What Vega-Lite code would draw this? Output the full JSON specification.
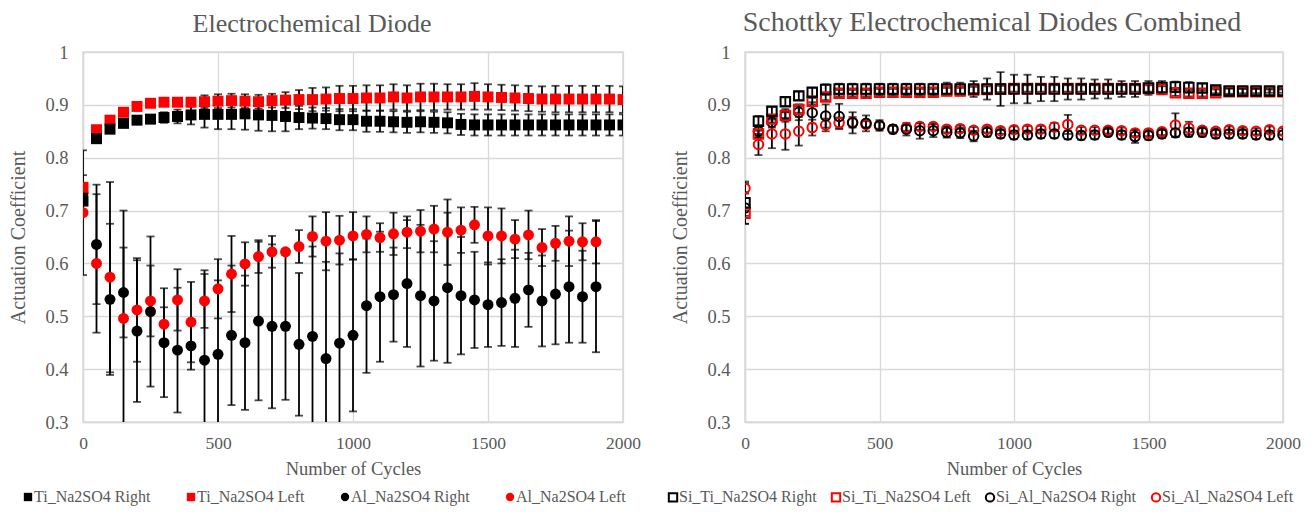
{
  "$schema": "https://vega.github.io/schema/vega-lite/v6.json",
  "background": "white",
  "padding": {"left": 8, "top": 8, "right": 0, "bottom": 0},
  "bounds": "flush",
  "spacing": 122,
  "config": {
    "font": "Liberation Serif",
    "view": {"stroke": "#D9D9D9", "strokeWidth": 1.5},
    "axis": {"gridColor": "#D9D9D9", "gridWidth": 1.3, "domainColor": "#D9D9D9", "domainWidth": 1.5, "ticks": false, "labelFont": "Liberation Serif", "labelColor": "#595959", "titleFont": "Liberation Serif", "titleColor": "#595959", "titleFontWeight": "normal"},
    "axisX": {"labelFontSize": 17.5, "titleFontSize": 18.5, "labelPadding": 12, "titlePadding": 8},
    "axisY": {"labelFontSize": 18.5, "titleFontSize": 20, "labelPadding": 15, "titlePadding": 16},
    "title": {"font": "Liberation Serif", "fontSize": 28, "fontWeight": "normal", "color": "#595959", "offset": 6, "anchor": "middle"},
    "legend": {"labelFont": "Liberation Serif", "labelFontSize": 16, "labelColor": "#595959", "labelLimit": 300}
  },
  "resolve": {"scale": {"color": "independent", "shape": "independent"}, "legend": {"color": "independent", "shape": "independent"}},
  "datasets": {
    "d": [
      {"p":"L","s":"Ti_Na2SO4 Right","x":0,"y":0.718,"e":0.005},
      {"p":"L","s":"Ti_Na2SO4 Right","x":50,"y":0.836,"e":0.003},
      {"p":"L","s":"Ti_Na2SO4 Right","x":100,"y":0.854,"e":0.003},
      {"p":"L","s":"Ti_Na2SO4 Right","x":150,"y":0.865,"e":0.004},
      {"p":"L","s":"Ti_Na2SO4 Right","x":200,"y":0.871,"e":0.005},
      {"p":"L","s":"Ti_Na2SO4 Right","x":250,"y":0.873,"e":0.006},
      {"p":"L","s":"Ti_Na2SO4 Right","x":300,"y":0.876,"e":0.010},
      {"p":"L","s":"Ti_Na2SO4 Right","x":350,"y":0.878,"e":0.013},
      {"p":"L","s":"Ti_Na2SO4 Right","x":400,"y":0.881,"e":0.018},
      {"p":"L","s":"Ti_Na2SO4 Right","x":450,"y":0.882,"e":0.025},
      {"p":"L","s":"Ti_Na2SO4 Right","x":500,"y":0.882,"e":0.028},
      {"p":"L","s":"Ti_Na2SO4 Right","x":550,"y":0.882,"e":0.028},
      {"p":"L","s":"Ti_Na2SO4 Right","x":600,"y":0.883,"e":0.030},
      {"p":"L","s":"Ti_Na2SO4 Right","x":650,"y":0.881,"e":0.030},
      {"p":"L","s":"Ti_Na2SO4 Right","x":700,"y":0.880,"e":0.030},
      {"p":"L","s":"Ti_Na2SO4 Right","x":750,"y":0.878,"e":0.028},
      {"p":"L","s":"Ti_Na2SO4 Right","x":800,"y":0.876,"e":0.022},
      {"p":"L","s":"Ti_Na2SO4 Right","x":850,"y":0.875,"e":0.020},
      {"p":"L","s":"Ti_Na2SO4 Right","x":900,"y":0.874,"e":0.020},
      {"p":"L","s":"Ti_Na2SO4 Right","x":950,"y":0.872,"e":0.020},
      {"p":"L","s":"Ti_Na2SO4 Right","x":1000,"y":0.872,"e":0.020},
      {"p":"L","s":"Ti_Na2SO4 Right","x":1050,"y":0.869,"e":0.020},
      {"p":"L","s":"Ti_Na2SO4 Right","x":1100,"y":0.869,"e":0.020},
      {"p":"L","s":"Ti_Na2SO4 Right","x":1150,"y":0.868,"e":0.020},
      {"p":"L","s":"Ti_Na2SO4 Right","x":1200,"y":0.867,"e":0.020},
      {"p":"L","s":"Ti_Na2SO4 Right","x":1250,"y":0.868,"e":0.020},
      {"p":"L","s":"Ti_Na2SO4 Right","x":1300,"y":0.867,"e":0.020},
      {"p":"L","s":"Ti_Na2SO4 Right","x":1350,"y":0.866,"e":0.020},
      {"p":"L","s":"Ti_Na2SO4 Right","x":1400,"y":0.863,"e":0.020},
      {"p":"L","s":"Ti_Na2SO4 Right","x":1450,"y":0.862,"e":0.020},
      {"p":"L","s":"Ti_Na2SO4 Right","x":1500,"y":0.862,"e":0.020},
      {"p":"L","s":"Ti_Na2SO4 Right","x":1550,"y":0.862,"e":0.020},
      {"p":"L","s":"Ti_Na2SO4 Right","x":1600,"y":0.862,"e":0.020},
      {"p":"L","s":"Ti_Na2SO4 Right","x":1650,"y":0.862,"e":0.020},
      {"p":"L","s":"Ti_Na2SO4 Right","x":1700,"y":0.862,"e":0.020},
      {"p":"L","s":"Ti_Na2SO4 Right","x":1750,"y":0.862,"e":0.020},
      {"p":"L","s":"Ti_Na2SO4 Right","x":1800,"y":0.862,"e":0.020},
      {"p":"L","s":"Ti_Na2SO4 Right","x":1850,"y":0.862,"e":0.020},
      {"p":"L","s":"Ti_Na2SO4 Right","x":1900,"y":0.862,"e":0.020},
      {"p":"L","s":"Ti_Na2SO4 Right","x":1950,"y":0.862,"e":0.020},
      {"p":"L","s":"Ti_Na2SO4 Right","x":2000,"y":0.862,"e":0.020},

      {"p":"L","s":"Ti_Na2SO4 Left","x":0,"y":0.744,"e":0.004},
      {"p":"L","s":"Ti_Na2SO4 Left","x":50,"y":0.853,"e":0.003},
      {"p":"L","s":"Ti_Na2SO4 Left","x":100,"y":0.871,"e":0.003},
      {"p":"L","s":"Ti_Na2SO4 Left","x":150,"y":0.886,"e":0.004},
      {"p":"L","s":"Ti_Na2SO4 Left","x":200,"y":0.897,"e":0.004},
      {"p":"L","s":"Ti_Na2SO4 Left","x":250,"y":0.903,"e":0.005},
      {"p":"L","s":"Ti_Na2SO4 Left","x":300,"y":0.905,"e":0.006},
      {"p":"L","s":"Ti_Na2SO4 Left","x":350,"y":0.905,"e":0.007},
      {"p":"L","s":"Ti_Na2SO4 Left","x":400,"y":0.905,"e":0.008},
      {"p":"L","s":"Ti_Na2SO4 Left","x":450,"y":0.906,"e":0.012},
      {"p":"L","s":"Ti_Na2SO4 Left","x":500,"y":0.907,"e":0.013},
      {"p":"L","s":"Ti_Na2SO4 Left","x":550,"y":0.908,"e":0.013},
      {"p":"L","s":"Ti_Na2SO4 Left","x":600,"y":0.907,"e":0.013},
      {"p":"L","s":"Ti_Na2SO4 Left","x":650,"y":0.906,"e":0.013},
      {"p":"L","s":"Ti_Na2SO4 Left","x":700,"y":0.908,"e":0.013},
      {"p":"L","s":"Ti_Na2SO4 Left","x":750,"y":0.909,"e":0.015},
      {"p":"L","s":"Ti_Na2SO4 Left","x":800,"y":0.910,"e":0.018},
      {"p":"L","s":"Ti_Na2SO4 Left","x":850,"y":0.910,"e":0.022},
      {"p":"L","s":"Ti_Na2SO4 Left","x":900,"y":0.911,"e":0.022},
      {"p":"L","s":"Ti_Na2SO4 Left","x":950,"y":0.912,"e":0.024},
      {"p":"L","s":"Ti_Na2SO4 Left","x":1000,"y":0.912,"e":0.024},
      {"p":"L","s":"Ti_Na2SO4 Left","x":1050,"y":0.913,"e":0.024},
      {"p":"L","s":"Ti_Na2SO4 Left","x":1100,"y":0.913,"e":0.024},
      {"p":"L","s":"Ti_Na2SO4 Left","x":1150,"y":0.915,"e":0.024},
      {"p":"L","s":"Ti_Na2SO4 Left","x":1200,"y":0.913,"e":0.024},
      {"p":"L","s":"Ti_Na2SO4 Left","x":1250,"y":0.915,"e":0.025},
      {"p":"L","s":"Ti_Na2SO4 Left","x":1300,"y":0.915,"e":0.025},
      {"p":"L","s":"Ti_Na2SO4 Left","x":1350,"y":0.915,"e":0.024},
      {"p":"L","s":"Ti_Na2SO4 Left","x":1400,"y":0.915,"e":0.024},
      {"p":"L","s":"Ti_Na2SO4 Left","x":1450,"y":0.916,"e":0.025},
      {"p":"L","s":"Ti_Na2SO4 Left","x":1500,"y":0.915,"e":0.024},
      {"p":"L","s":"Ti_Na2SO4 Left","x":1550,"y":0.914,"e":0.024},
      {"p":"L","s":"Ti_Na2SO4 Left","x":1600,"y":0.913,"e":0.024},
      {"p":"L","s":"Ti_Na2SO4 Left","x":1650,"y":0.912,"e":0.024},
      {"p":"L","s":"Ti_Na2SO4 Left","x":1700,"y":0.911,"e":0.024},
      {"p":"L","s":"Ti_Na2SO4 Left","x":1750,"y":0.911,"e":0.025},
      {"p":"L","s":"Ti_Na2SO4 Left","x":1800,"y":0.911,"e":0.025},
      {"p":"L","s":"Ti_Na2SO4 Left","x":1850,"y":0.911,"e":0.025},
      {"p":"L","s":"Ti_Na2SO4 Left","x":1900,"y":0.911,"e":0.025},
      {"p":"L","s":"Ti_Na2SO4 Left","x":1950,"y":0.911,"e":0.025},
      {"p":"L","s":"Ti_Na2SO4 Left","x":2000,"y":0.910,"e":0.025},

      {"p":"L","s":"Al_Na2SO4 Right","x":0,"y":0.733,"e":0.034},
      {"p":"L","s":"Al_Na2SO4 Right","x":50,"y":0.636,"e":0.113},
      {"p":"L","s":"Al_Na2SO4 Right","x":100,"y":0.532,"e":0.143},
      {"p":"L","s":"Al_Na2SO4 Right","x":150,"y":0.545,"e":0.085},
      {"p":"L","s":"Al_Na2SO4 Right","x":200,"y":0.472,"e":0.134},
      {"p":"L","s":"Al_Na2SO4 Right","x":250,"y":0.509,"e":0.142},
      {"p":"L","s":"Al_Na2SO4 Right","x":300,"y":0.450,"e":0.103},
      {"p":"L","s":"Al_Na2SO4 Right","x":350,"y":0.436,"e":0.118},
      {"p":"L","s":"Al_Na2SO4 Right","x":400,"y":0.444,"e":0.045},
      {"p":"L","s":"Al_Na2SO4 Right","x":450,"y":0.417,"e":0.170},
      {"p":"L","s":"Al_Na2SO4 Right","x":500,"y":0.428,"e":0.140},
      {"p":"L","s":"Al_Na2SO4 Right","x":550,"y":0.464,"e":0.132},
      {"p":"L","s":"Al_Na2SO4 Right","x":600,"y":0.450,"e":0.127},
      {"p":"L","s":"Al_Na2SO4 Right","x":650,"y":0.491,"e":0.150},
      {"p":"L","s":"Al_Na2SO4 Right","x":700,"y":0.481,"e":0.155},
      {"p":"L","s":"Al_Na2SO4 Right","x":750,"y":0.481,"e":0.139},
      {"p":"L","s":"Al_Na2SO4 Right","x":800,"y":0.447,"e":0.135},
      {"p":"L","s":"Al_Na2SO4 Right","x":850,"y":0.462,"e":0.170},
      {"p":"L","s":"Al_Na2SO4 Right","x":900,"y":0.420,"e":0.183},
      {"p":"L","s":"Al_Na2SO4 Right","x":950,"y":0.449,"e":0.170},
      {"p":"L","s":"Al_Na2SO4 Right","x":1000,"y":0.464,"e":0.144},
      {"p":"L","s":"Al_Na2SO4 Right","x":1050,"y":0.520,"e":0.127},
      {"p":"L","s":"Al_Na2SO4 Right","x":1100,"y":0.537,"e":0.123},
      {"p":"L","s":"Al_Na2SO4 Right","x":1150,"y":0.541,"e":0.089},
      {"p":"L","s":"Al_Na2SO4 Right","x":1200,"y":0.562,"e":0.120},
      {"p":"L","s":"Al_Na2SO4 Right","x":1250,"y":0.539,"e":0.134},
      {"p":"L","s":"Al_Na2SO4 Right","x":1300,"y":0.529,"e":0.113},
      {"p":"L","s":"Al_Na2SO4 Right","x":1350,"y":0.554,"e":0.142},
      {"p":"L","s":"Al_Na2SO4 Right","x":1400,"y":0.539,"e":0.111},
      {"p":"L","s":"Al_Na2SO4 Right","x":1450,"y":0.531,"e":0.091},
      {"p":"L","s":"Al_Na2SO4 Right","x":1500,"y":0.522,"e":0.080},
      {"p":"L","s":"Al_Na2SO4 Right","x":1550,"y":0.526,"e":0.082},
      {"p":"L","s":"Al_Na2SO4 Right","x":1600,"y":0.534,"e":0.092},
      {"p":"L","s":"Al_Na2SO4 Right","x":1650,"y":0.550,"e":0.070},
      {"p":"L","s":"Al_Na2SO4 Right","x":1700,"y":0.529,"e":0.086},
      {"p":"L","s":"Al_Na2SO4 Right","x":1750,"y":0.542,"e":0.095},
      {"p":"L","s":"Al_Na2SO4 Right","x":1800,"y":0.556,"e":0.106},
      {"p":"L","s":"Al_Na2SO4 Right","x":1850,"y":0.537,"e":0.087},
      {"p":"L","s":"Al_Na2SO4 Right","x":1900,"y":0.556,"e":0.124},

      {"p":"L","s":"Al_Na2SO4 Left","x":0,"y":0.696,"e":0.118},
      {"p":"L","s":"Al_Na2SO4 Left","x":50,"y":0.600,"e":0.131},
      {"p":"L","s":"Al_Na2SO4 Left","x":100,"y":0.574,"e":0.180},
      {"p":"L","s":"Al_Na2SO4 Left","x":150,"y":0.496,"e":0.204},
      {"p":"L","s":"Al_Na2SO4 Left","x":200,"y":0.512,"e":0.098},
      {"p":"L","s":"Al_Na2SO4 Left","x":250,"y":0.529,"e":0.067},
      {"p":"L","s":"Al_Na2SO4 Left","x":300,"y":0.485,"e":0.032},
      {"p":"L","s":"Al_Na2SO4 Left","x":350,"y":0.531,"e":0.058},
      {"p":"L","s":"Al_Na2SO4 Left","x":400,"y":0.489,"e":0.076},
      {"p":"L","s":"Al_Na2SO4 Left","x":450,"y":0.529,"e":0.051},
      {"p":"L","s":"Al_Na2SO4 Left","x":500,"y":0.552,"e":0.056},
      {"p":"L","s":"Al_Na2SO4 Left","x":550,"y":0.580,"e":0.072},
      {"p":"L","s":"Al_Na2SO4 Left","x":600,"y":0.599,"e":0.041},
      {"p":"L","s":"Al_Na2SO4 Left","x":650,"y":0.613,"e":0.031},
      {"p":"L","s":"Al_Na2SO4 Left","x":700,"y":0.622,"e":0.030},
      {"p":"L","s":"Al_Na2SO4 Left","x":750,"y":0.622,"e":0.005},
      {"p":"L","s":"Al_Na2SO4 Left","x":800,"y":0.632,"e":0.031},
      {"p":"L","s":"Al_Na2SO4 Left","x":850,"y":0.651,"e":0.038},
      {"p":"L","s":"Al_Na2SO4 Left","x":900,"y":0.642,"e":0.055},
      {"p":"L","s":"Al_Na2SO4 Left","x":950,"y":0.644,"e":0.046},
      {"p":"L","s":"Al_Na2SO4 Left","x":1000,"y":0.652,"e":0.045},
      {"p":"L","s":"Al_Na2SO4 Left","x":1050,"y":0.655,"e":0.034},
      {"p":"L","s":"Al_Na2SO4 Left","x":1100,"y":0.649,"e":0.027},
      {"p":"L","s":"Al_Na2SO4 Left","x":1150,"y":0.656,"e":0.040},
      {"p":"L","s":"Al_Na2SO4 Left","x":1200,"y":0.659,"e":0.030},
      {"p":"L","s":"Al_Na2SO4 Left","x":1250,"y":0.661,"e":0.040},
      {"p":"L","s":"Al_Na2SO4 Left","x":1300,"y":0.665,"e":0.044},
      {"p":"L","s":"Al_Na2SO4 Left","x":1350,"y":0.659,"e":0.062},
      {"p":"L","s":"Al_Na2SO4 Left","x":1400,"y":0.663,"e":0.043},
      {"p":"L","s":"Al_Na2SO4 Left","x":1450,"y":0.673,"e":0.034},
      {"p":"L","s":"Al_Na2SO4 Left","x":1500,"y":0.652,"e":0.054},
      {"p":"L","s":"Al_Na2SO4 Left","x":1550,"y":0.652,"e":0.052},
      {"p":"L","s":"Al_Na2SO4 Left","x":1600,"y":0.646,"e":0.036},
      {"p":"L","s":"Al_Na2SO4 Left","x":1650,"y":0.654,"e":0.046},
      {"p":"L","s":"Al_Na2SO4 Left","x":1700,"y":0.630,"e":0.035},
      {"p":"L","s":"Al_Na2SO4 Left","x":1750,"y":0.638,"e":0.033},
      {"p":"L","s":"Al_Na2SO4 Left","x":1800,"y":0.642,"e":0.047},
      {"p":"L","s":"Al_Na2SO4 Left","x":1850,"y":0.641,"e":0.035},
      {"p":"L","s":"Al_Na2SO4 Left","x":1900,"y":0.641,"e":0.041},

      {"p":"R","s":"Si_Ti_Na2SO4 Right","x":0,"y":0.715,"e":0.040},
      {"p":"R","s":"Si_Ti_Na2SO4 Right","x":50,"y":0.869,"e":0.010},
      {"p":"R","s":"Si_Ti_Na2SO4 Right","x":100,"y":0.888,"e":0.008},
      {"p":"R","s":"Si_Ti_Na2SO4 Right","x":150,"y":0.906,"e":0.008},
      {"p":"R","s":"Si_Ti_Na2SO4 Right","x":200,"y":0.917,"e":0.008},
      {"p":"R","s":"Si_Ti_Na2SO4 Right","x":250,"y":0.924,"e":0.008},
      {"p":"R","s":"Si_Ti_Na2SO4 Right","x":300,"y":0.929,"e":0.010},
      {"p":"R","s":"Si_Ti_Na2SO4 Right","x":350,"y":0.930,"e":0.010},
      {"p":"R","s":"Si_Ti_Na2SO4 Right","x":400,"y":0.930,"e":0.010},
      {"p":"R","s":"Si_Ti_Na2SO4 Right","x":450,"y":0.930,"e":0.010},
      {"p":"R","s":"Si_Ti_Na2SO4 Right","x":500,"y":0.930,"e":0.010},
      {"p":"R","s":"Si_Ti_Na2SO4 Right","x":550,"y":0.930,"e":0.010},
      {"p":"R","s":"Si_Ti_Na2SO4 Right","x":600,"y":0.930,"e":0.010},
      {"p":"R","s":"Si_Ti_Na2SO4 Right","x":650,"y":0.930,"e":0.010},
      {"p":"R","s":"Si_Ti_Na2SO4 Right","x":700,"y":0.930,"e":0.010},
      {"p":"R","s":"Si_Ti_Na2SO4 Right","x":750,"y":0.930,"e":0.012},
      {"p":"R","s":"Si_Ti_Na2SO4 Right","x":800,"y":0.930,"e":0.012},
      {"p":"R","s":"Si_Ti_Na2SO4 Right","x":850,"y":0.930,"e":0.015},
      {"p":"R","s":"Si_Ti_Na2SO4 Right","x":900,"y":0.930,"e":0.020},
      {"p":"R","s":"Si_Ti_Na2SO4 Right","x":950,"y":0.930,"e":0.032},
      {"p":"R","s":"Si_Ti_Na2SO4 Right","x":1000,"y":0.930,"e":0.027},
      {"p":"R","s":"Si_Ti_Na2SO4 Right","x":1050,"y":0.930,"e":0.027},
      {"p":"R","s":"Si_Ti_Na2SO4 Right","x":1100,"y":0.930,"e":0.023},
      {"p":"R","s":"Si_Ti_Na2SO4 Right","x":1150,"y":0.930,"e":0.023},
      {"p":"R","s":"Si_Ti_Na2SO4 Right","x":1200,"y":0.930,"e":0.020},
      {"p":"R","s":"Si_Ti_Na2SO4 Right","x":1250,"y":0.930,"e":0.020},
      {"p":"R","s":"Si_Ti_Na2SO4 Right","x":1300,"y":0.930,"e":0.018},
      {"p":"R","s":"Si_Ti_Na2SO4 Right","x":1350,"y":0.930,"e":0.018},
      {"p":"R","s":"Si_Ti_Na2SO4 Right","x":1400,"y":0.930,"e":0.015},
      {"p":"R","s":"Si_Ti_Na2SO4 Right","x":1450,"y":0.930,"e":0.015},
      {"p":"R","s":"Si_Ti_Na2SO4 Right","x":1500,"y":0.932,"e":0.013},
      {"p":"R","s":"Si_Ti_Na2SO4 Right","x":1550,"y":0.933,"e":0.012},
      {"p":"R","s":"Si_Ti_Na2SO4 Right","x":1600,"y":0.934,"e":0.010},
      {"p":"R","s":"Si_Ti_Na2SO4 Right","x":1650,"y":0.933,"e":0.010},
      {"p":"R","s":"Si_Ti_Na2SO4 Right","x":1700,"y":0.932,"e":0.008},
      {"p":"R","s":"Si_Ti_Na2SO4 Right","x":1750,"y":0.928,"e":0.006},
      {"p":"R","s":"Si_Ti_Na2SO4 Right","x":1800,"y":0.926,"e":0.005},
      {"p":"R","s":"Si_Ti_Na2SO4 Right","x":1850,"y":0.926,"e":0.004},
      {"p":"R","s":"Si_Ti_Na2SO4 Right","x":1900,"y":0.926,"e":0.004},
      {"p":"R","s":"Si_Ti_Na2SO4 Right","x":1950,"y":0.926,"e":0.003},
      {"p":"R","s":"Si_Ti_Na2SO4 Right","x":2000,"y":0.926,"e":0.003},

      {"p":"R","s":"Si_Ti_Na2SO4 Left","x":0,"y":0.695,"e":0.005},
      {"p":"R","s":"Si_Ti_Na2SO4 Left","x":50,"y":0.845,"e":0.006},
      {"p":"R","s":"Si_Ti_Na2SO4 Left","x":100,"y":0.873,"e":0.006},
      {"p":"R","s":"Si_Ti_Na2SO4 Left","x":150,"y":0.880,"e":0.006},
      {"p":"R","s":"Si_Ti_Na2SO4 Left","x":200,"y":0.891,"e":0.006},
      {"p":"R","s":"Si_Ti_Na2SO4 Left","x":250,"y":0.907,"e":0.006},
      {"p":"R","s":"Si_Ti_Na2SO4 Left","x":300,"y":0.915,"e":0.006},
      {"p":"R","s":"Si_Ti_Na2SO4 Left","x":350,"y":0.922,"e":0.006},
      {"p":"R","s":"Si_Ti_Na2SO4 Left","x":400,"y":0.922,"e":0.006},
      {"p":"R","s":"Si_Ti_Na2SO4 Left","x":450,"y":0.922,"e":0.006},
      {"p":"R","s":"Si_Ti_Na2SO4 Left","x":500,"y":0.924,"e":0.006},
      {"p":"R","s":"Si_Ti_Na2SO4 Left","x":550,"y":0.924,"e":0.006},
      {"p":"R","s":"Si_Ti_Na2SO4 Left","x":600,"y":0.924,"e":0.006},
      {"p":"R","s":"Si_Ti_Na2SO4 Left","x":650,"y":0.924,"e":0.006},
      {"p":"R","s":"Si_Ti_Na2SO4 Left","x":700,"y":0.924,"e":0.006},
      {"p":"R","s":"Si_Ti_Na2SO4 Left","x":750,"y":0.926,"e":0.006},
      {"p":"R","s":"Si_Ti_Na2SO4 Left","x":800,"y":0.926,"e":0.006},
      {"p":"R","s":"Si_Ti_Na2SO4 Left","x":850,"y":0.928,"e":0.006},
      {"p":"R","s":"Si_Ti_Na2SO4 Left","x":900,"y":0.929,"e":0.006},
      {"p":"R","s":"Si_Ti_Na2SO4 Left","x":950,"y":0.930,"e":0.006},
      {"p":"R","s":"Si_Ti_Na2SO4 Left","x":1000,"y":0.931,"e":0.006},
      {"p":"R","s":"Si_Ti_Na2SO4 Left","x":1050,"y":0.931,"e":0.006},
      {"p":"R","s":"Si_Ti_Na2SO4 Left","x":1100,"y":0.931,"e":0.006},
      {"p":"R","s":"Si_Ti_Na2SO4 Left","x":1150,"y":0.931,"e":0.006},
      {"p":"R","s":"Si_Ti_Na2SO4 Left","x":1200,"y":0.931,"e":0.006},
      {"p":"R","s":"Si_Ti_Na2SO4 Left","x":1250,"y":0.931,"e":0.006},
      {"p":"R","s":"Si_Ti_Na2SO4 Left","x":1300,"y":0.931,"e":0.006},
      {"p":"R","s":"Si_Ti_Na2SO4 Left","x":1350,"y":0.931,"e":0.006},
      {"p":"R","s":"Si_Ti_Na2SO4 Left","x":1400,"y":0.931,"e":0.006},
      {"p":"R","s":"Si_Ti_Na2SO4 Left","x":1450,"y":0.931,"e":0.006},
      {"p":"R","s":"Si_Ti_Na2SO4 Left","x":1500,"y":0.931,"e":0.006},
      {"p":"R","s":"Si_Ti_Na2SO4 Left","x":1550,"y":0.929,"e":0.006},
      {"p":"R","s":"Si_Ti_Na2SO4 Left","x":1600,"y":0.923,"e":0.006},
      {"p":"R","s":"Si_Ti_Na2SO4 Left","x":1650,"y":0.922,"e":0.006},
      {"p":"R","s":"Si_Ti_Na2SO4 Left","x":1700,"y":0.922,"e":0.006},
      {"p":"R","s":"Si_Ti_Na2SO4 Left","x":1750,"y":0.923,"e":0.006},
      {"p":"R","s":"Si_Ti_Na2SO4 Left","x":1800,"y":0.925,"e":0.006},
      {"p":"R","s":"Si_Ti_Na2SO4 Left","x":1850,"y":0.925,"e":0.006},
      {"p":"R","s":"Si_Ti_Na2SO4 Left","x":1900,"y":0.925,"e":0.006},
      {"p":"R","s":"Si_Ti_Na2SO4 Left","x":1950,"y":0.925,"e":0.006},
      {"p":"R","s":"Si_Ti_Na2SO4 Left","x":2000,"y":0.925,"e":0.006},

      {"p":"R","s":"Si_Al_Na2SO4 Right","x":0,"y":0.705,"e":0.030},
      {"p":"R","s":"Si_Al_Na2SO4 Right","x":50,"y":0.850,"e":0.012},
      {"p":"R","s":"Si_Al_Na2SO4 Right","x":100,"y":0.867,"e":0.010},
      {"p":"R","s":"Si_Al_Na2SO4 Right","x":150,"y":0.880,"e":0.012},
      {"p":"R","s":"Si_Al_Na2SO4 Right","x":200,"y":0.886,"e":0.015},
      {"p":"R","s":"Si_Al_Na2SO4 Right","x":250,"y":0.885,"e":0.020},
      {"p":"R","s":"Si_Al_Na2SO4 Right","x":300,"y":0.879,"e":0.022},
      {"p":"R","s":"Si_Al_Na2SO4 Right","x":350,"y":0.878,"e":0.024},
      {"p":"R","s":"Si_Al_Na2SO4 Right","x":400,"y":0.866,"e":0.020},
      {"p":"R","s":"Si_Al_Na2SO4 Right","x":450,"y":0.865,"e":0.015},
      {"p":"R","s":"Si_Al_Na2SO4 Right","x":500,"y":0.861,"e":0.010},
      {"p":"R","s":"Si_Al_Na2SO4 Right","x":550,"y":0.854,"e":0.008},
      {"p":"R","s":"Si_Al_Na2SO4 Right","x":600,"y":0.854,"e":0.012},
      {"p":"R","s":"Si_Al_Na2SO4 Right","x":650,"y":0.851,"e":0.015},
      {"p":"R","s":"Si_Al_Na2SO4 Right","x":700,"y":0.851,"e":0.012},
      {"p":"R","s":"Si_Al_Na2SO4 Right","x":750,"y":0.848,"e":0.010},
      {"p":"R","s":"Si_Al_Na2SO4 Right","x":800,"y":0.847,"e":0.010},
      {"p":"R","s":"Si_Al_Na2SO4 Right","x":850,"y":0.841,"e":0.010},
      {"p":"R","s":"Si_Al_Na2SO4 Right","x":900,"y":0.848,"e":0.008},
      {"p":"R","s":"Si_Al_Na2SO4 Right","x":950,"y":0.845,"e":0.008},
      {"p":"R","s":"Si_Al_Na2SO4 Right","x":1000,"y":0.843,"e":0.008},
      {"p":"R","s":"Si_Al_Na2SO4 Right","x":1050,"y":0.843,"e":0.008},
      {"p":"R","s":"Si_Al_Na2SO4 Right","x":1100,"y":0.845,"e":0.008},
      {"p":"R","s":"Si_Al_Na2SO4 Right","x":1150,"y":0.845,"e":0.008},
      {"p":"R","s":"Si_Al_Na2SO4 Right","x":1200,"y":0.843,"e":0.008},
      {"p":"R","s":"Si_Al_Na2SO4 Right","x":1250,"y":0.842,"e":0.008},
      {"p":"R","s":"Si_Al_Na2SO4 Right","x":1300,"y":0.843,"e":0.008},
      {"p":"R","s":"Si_Al_Na2SO4 Right","x":1350,"y":0.848,"e":0.006},
      {"p":"R","s":"Si_Al_Na2SO4 Right","x":1400,"y":0.843,"e":0.008},
      {"p":"R","s":"Si_Al_Na2SO4 Right","x":1450,"y":0.840,"e":0.012},
      {"p":"R","s":"Si_Al_Na2SO4 Right","x":1500,"y":0.842,"e":0.008},
      {"p":"R","s":"Si_Al_Na2SO4 Right","x":1550,"y":0.845,"e":0.008},
      {"p":"R","s":"Si_Al_Na2SO4 Right","x":1600,"y":0.847,"e":0.008},
      {"p":"R","s":"Si_Al_Na2SO4 Right","x":1650,"y":0.848,"e":0.008},
      {"p":"R","s":"Si_Al_Na2SO4 Right","x":1700,"y":0.848,"e":0.008},
      {"p":"R","s":"Si_Al_Na2SO4 Right","x":1750,"y":0.845,"e":0.008},
      {"p":"R","s":"Si_Al_Na2SO4 Right","x":1800,"y":0.845,"e":0.008},
      {"p":"R","s":"Si_Al_Na2SO4 Right","x":1850,"y":0.845,"e":0.008},
      {"p":"R","s":"Si_Al_Na2SO4 Right","x":1900,"y":0.843,"e":0.008},
      {"p":"R","s":"Si_Al_Na2SO4 Right","x":1950,"y":0.843,"e":0.008},
      {"p":"R","s":"Si_Al_Na2SO4 Right","x":2000,"y":0.843,"e":0.008},

      {"p":"R","s":"Si_Al_Na2SO4 Left","x":0,"y":0.742,"e":0.010},
      {"p":"R","s":"Si_Al_Na2SO4 Left","x":50,"y":0.825,"e":0.020},
      {"p":"R","s":"Si_Al_Na2SO4 Left","x":100,"y":0.845,"e":0.027},
      {"p":"R","s":"Si_Al_Na2SO4 Left","x":150,"y":0.845,"e":0.030},
      {"p":"R","s":"Si_Al_Na2SO4 Left","x":200,"y":0.850,"e":0.027},
      {"p":"R","s":"Si_Al_Na2SO4 Left","x":250,"y":0.857,"e":0.015},
      {"p":"R","s":"Si_Al_Na2SO4 Left","x":300,"y":0.862,"e":0.012},
      {"p":"R","s":"Si_Al_Na2SO4 Left","x":350,"y":0.866,"e":0.010},
      {"p":"R","s":"Si_Al_Na2SO4 Left","x":400,"y":0.867,"e":0.010},
      {"p":"R","s":"Si_Al_Na2SO4 Left","x":450,"y":0.863,"e":0.006},
      {"p":"R","s":"Si_Al_Na2SO4 Left","x":500,"y":0.861,"e":0.006},
      {"p":"R","s":"Si_Al_Na2SO4 Left","x":550,"y":0.854,"e":0.006},
      {"p":"R","s":"Si_Al_Na2SO4 Left","x":600,"y":0.857,"e":0.006},
      {"p":"R","s":"Si_Al_Na2SO4 Left","x":650,"y":0.859,"e":0.006},
      {"p":"R","s":"Si_Al_Na2SO4 Left","x":700,"y":0.859,"e":0.006},
      {"p":"R","s":"Si_Al_Na2SO4 Left","x":750,"y":0.854,"e":0.006},
      {"p":"R","s":"Si_Al_Na2SO4 Left","x":800,"y":0.855,"e":0.006},
      {"p":"R","s":"Si_Al_Na2SO4 Left","x":850,"y":0.852,"e":0.006},
      {"p":"R","s":"Si_Al_Na2SO4 Left","x":900,"y":0.854,"e":0.006},
      {"p":"R","s":"Si_Al_Na2SO4 Left","x":950,"y":0.851,"e":0.006},
      {"p":"R","s":"Si_Al_Na2SO4 Left","x":1000,"y":0.853,"e":0.006},
      {"p":"R","s":"Si_Al_Na2SO4 Left","x":1050,"y":0.854,"e":0.006},
      {"p":"R","s":"Si_Al_Na2SO4 Left","x":1100,"y":0.854,"e":0.006},
      {"p":"R","s":"Si_Al_Na2SO4 Left","x":1150,"y":0.858,"e":0.008},
      {"p":"R","s":"Si_Al_Na2SO4 Left","x":1200,"y":0.863,"e":0.018},
      {"p":"R","s":"Si_Al_Na2SO4 Left","x":1250,"y":0.852,"e":0.006},
      {"p":"R","s":"Si_Al_Na2SO4 Left","x":1300,"y":0.852,"e":0.006},
      {"p":"R","s":"Si_Al_Na2SO4 Left","x":1350,"y":0.852,"e":0.006},
      {"p":"R","s":"Si_Al_Na2SO4 Left","x":1400,"y":0.851,"e":0.006},
      {"p":"R","s":"Si_Al_Na2SO4 Left","x":1450,"y":0.847,"e":0.006},
      {"p":"R","s":"Si_Al_Na2SO4 Left","x":1500,"y":0.847,"e":0.006},
      {"p":"R","s":"Si_Al_Na2SO4 Left","x":1550,"y":0.849,"e":0.006},
      {"p":"R","s":"Si_Al_Na2SO4 Left","x":1600,"y":0.862,"e":0.022},
      {"p":"R","s":"Si_Al_Na2SO4 Left","x":1650,"y":0.856,"e":0.012},
      {"p":"R","s":"Si_Al_Na2SO4 Left","x":1700,"y":0.852,"e":0.006},
      {"p":"R","s":"Si_Al_Na2SO4 Left","x":1750,"y":0.850,"e":0.006},
      {"p":"R","s":"Si_Al_Na2SO4 Left","x":1800,"y":0.853,"e":0.006},
      {"p":"R","s":"Si_Al_Na2SO4 Left","x":1850,"y":0.851,"e":0.006},
      {"p":"R","s":"Si_Al_Na2SO4 Left","x":1900,"y":0.850,"e":0.006},
      {"p":"R","s":"Si_Al_Na2SO4 Left","x":1950,"y":0.853,"e":0.006},
      {"p":"R","s":"Si_Al_Na2SO4 Left","x":2000,"y":0.850,"e":0.006}
    ]
  },
  "hconcat": [
    {
      "width": 540,
      "height": 370,
      "title": {"text": "Electrochemical Diode", "dx": -41, "fontSize": 26},
      "data": {"name": "d"},
      "transform": [{"filter": "datum.p == 'L'"}],
      "layer": [
        {
          "mark": {"type": "errorbar", "clip": true, "color": "black", "thickness": 1.8, "ticks": {"size": 8, "thickness": 1.8, "color": "black"}},
          "encoding": {
            "x": {"field": "x", "type": "quantitative", "scale": {"domain": [0, 2000]}, "axis": {"title": "Number of Cycles", "values": [0, 500, 1000, 1500, 2000], "format": "d", "labelFlush": false, "grid": true}},
            "y": {"field": "y", "type": "quantitative", "scale": {"domain": [0.3, 1]}, "axis": {"title": "Actuation Coefficient", "values": [0.3, 0.4, 0.5, 0.6, 0.7, 0.8, 0.9, 1], "format": "~g"}},
            "yError": {"field": "e"}
          }
        },
        {
          "mark": {"type": "point", "filled": true, "opacity": 1, "size": 120, "clip": true},
          "encoding": {
            "x": {"field": "x", "type": "quantitative", "scale": {"domain": [0, 2000]}, "axis": {"title": "Number of Cycles", "values": [0, 500, 1000, 1500, 2000], "format": "d", "labelFlush": false, "grid": true}},
            "y": {"field": "y", "type": "quantitative", "scale": {"domain": [0.3, 1]}, "axis": {"title": "Actuation Coefficient", "values": [0.3, 0.4, 0.5, 0.6, 0.7, 0.8, 0.9, 1], "format": "~g"}},
            "color": {"field": "s", "type": "nominal", "scale": {"domain": ["Ti_Na2SO4 Right", "Ti_Na2SO4 Left", "Al_Na2SO4 Right", "Al_Na2SO4 Left"], "range": ["#000000", "#FF0000", "#000000", "#FF0000"]},
              "legend": {"orient": "none", "legendX": -63, "legendY": 437, "direction": "horizontal", "columns": 4, "title": null, "columnPadding": 32, "symbolSize": 70, "labelOffset": -2, "symbolStrokeWidth": 0}},
            "shape": {"field": "s", "type": "nominal", "scale": {"domain": ["Ti_Na2SO4 Right", "Ti_Na2SO4 Left", "Al_Na2SO4 Right", "Al_Na2SO4 Left"], "range": ["square", "square", "circle", "circle"]},
              "legend": {"orient": "none", "legendX": -63, "legendY": 437, "direction": "horizontal", "columns": 4, "title": null, "columnPadding": 32, "symbolSize": 70, "labelOffset": -2, "symbolStrokeWidth": 0}},
            "order": {"field": "s"}
          }
        }
      ]
    },
    {
      "width": 538,
      "height": 370,
      "title": {"text": "Schottky Electrochemical Diodes Combined", "dx": -22},
      "data": {"name": "d"},
      "transform": [{"filter": "datum.p == 'R'"}],
      "layer": [
        {
          "mark": {"type": "errorbar", "clip": true, "color": "black", "thickness": 1.8, "ticks": {"size": 8, "thickness": 1.8, "color": "black"}},
          "encoding": {
            "x": {"field": "x", "type": "quantitative", "scale": {"domain": [0, 2000]}, "axis": {"title": "Number of Cycles", "values": [0, 500, 1000, 1500, 2000], "format": "d", "labelFlush": false, "grid": true}},
            "y": {"field": "y", "type": "quantitative", "scale": {"domain": [0.3, 1]}, "axis": {"title": "Actuation Coefficient", "values": [0.3, 0.4, 0.5, 0.6, 0.7, 0.8, 0.9, 1], "format": "~g"}},
            "yError": {"field": "e"}
          }
        },
        {
          "mark": {"type": "point", "filled": false, "opacity": 1, "size": 90, "strokeWidth": 2, "clip": true},
          "encoding": {
            "x": {"field": "x", "type": "quantitative", "scale": {"domain": [0, 2000]}, "axis": {"title": "Number of Cycles", "values": [0, 500, 1000, 1500, 2000], "format": "d", "labelFlush": false, "grid": true}},
            "y": {"field": "y", "type": "quantitative", "scale": {"domain": [0.3, 1]}, "axis": {"title": "Actuation Coefficient", "values": [0.3, 0.4, 0.5, 0.6, 0.7, 0.8, 0.9, 1], "format": "~g"}},
            "color": {"field": "s", "type": "nominal", "scale": {"domain": ["Si_Ti_Na2SO4 Right", "Si_Ti_Na2SO4 Left", "Si_Al_Na2SO4 Right", "Si_Al_Na2SO4 Left"], "range": ["#000000", "#FF0000", "#000000", "#FF0000"]},
              "legend": {"orient": "none", "legendX": -80, "legendY": 437, "direction": "horizontal", "columns": 4, "title": null, "columnPadding": 10, "symbolSize": 70, "labelOffset": -2, "symbolStrokeWidth": 2}},
            "shape": {"field": "s", "type": "nominal", "scale": {"domain": ["Si_Ti_Na2SO4 Right", "Si_Ti_Na2SO4 Left", "Si_Al_Na2SO4 Right", "Si_Al_Na2SO4 Left"], "range": ["square", "square", "circle", "circle"]},
              "legend": {"orient": "none", "legendX": -80, "legendY": 437, "direction": "horizontal", "columns": 4, "title": null, "columnPadding": 10, "symbolSize": 70, "labelOffset": -2, "symbolStrokeWidth": 2}},
            "order": {"field": "s"}
          }
        }
      ]
    }
  ]
}
